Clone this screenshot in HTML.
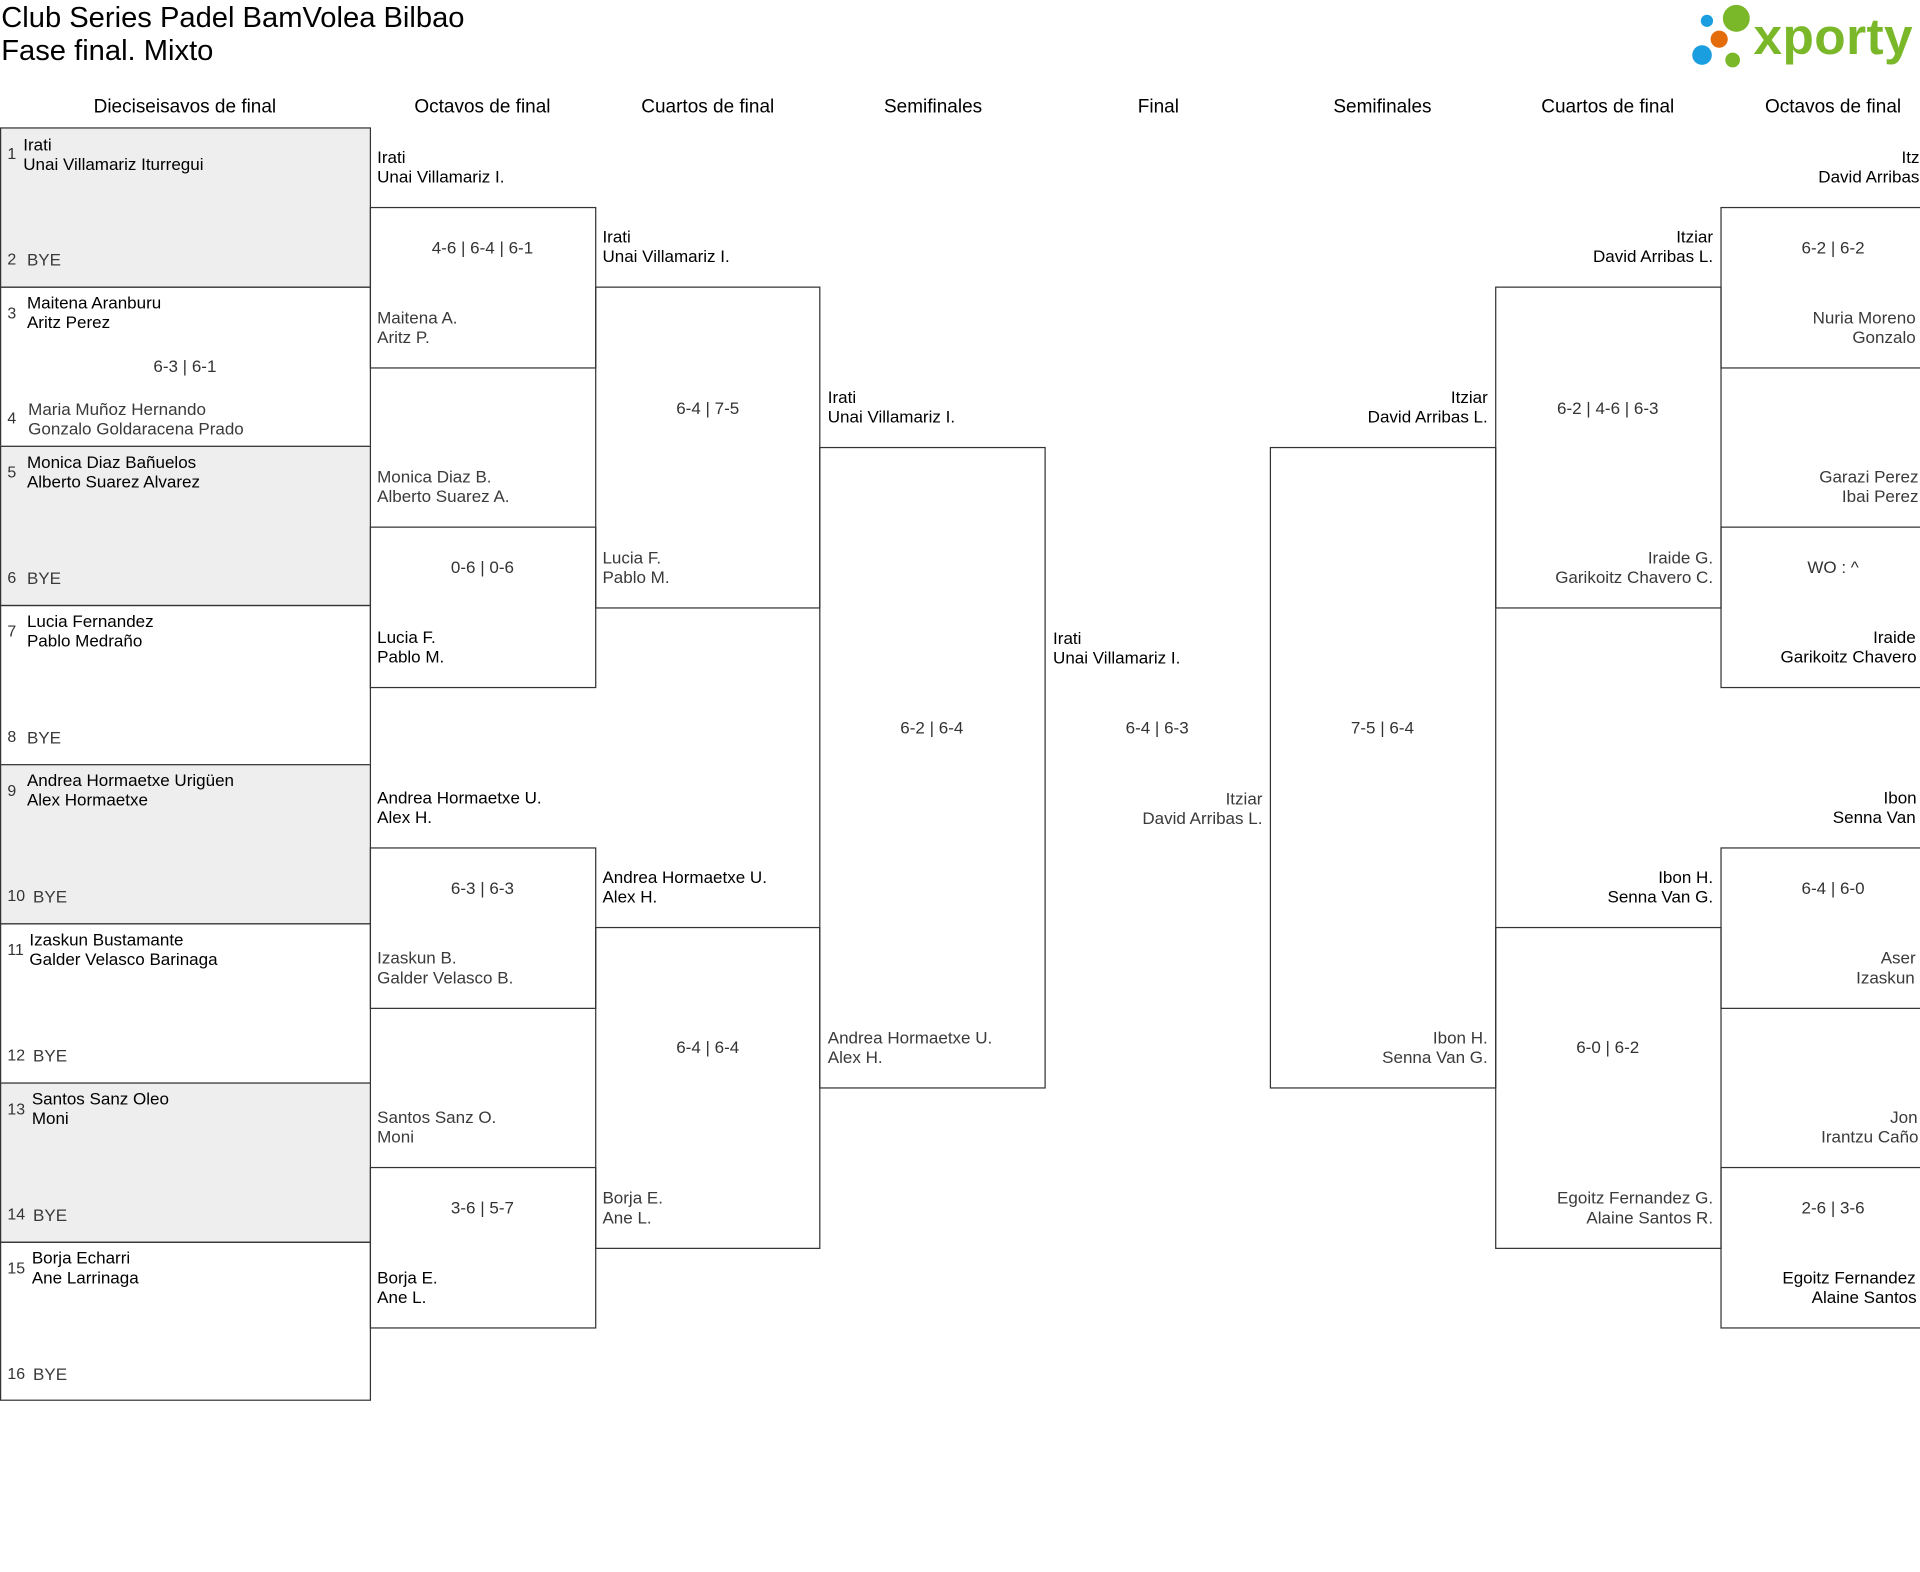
<!DOCTYPE html>
<html><head><meta charset="utf-8">
<style>
html,body{margin:0;padding:0;background:#fff;width:1920px;height:1572px;overflow:hidden}
.w{position:absolute;left:0;top:0;width:1568px;height:1284px;transform:scale(1.22449);transform-origin:0 0;overflow:hidden;font-family:"Liberation Sans",sans-serif;color:#000}
.a{position:absolute}
.b{position:absolute;box-sizing:border-box;border:1px solid #333}
.g{background:#eee}
.t{position:absolute;font-size:13.9px;line-height:16px;white-space:nowrap}
.l{color:#3a3a3a}
.s{position:absolute;font-size:13.9px;line-height:16px;white-space:nowrap;color:#333;text-align:center}
.h{position:absolute;top:79px;font-size:15.5px;line-height:18px;text-align:center;width:184px;white-space:nowrap}
.r{text-align:right}
.n{position:absolute;left:6px;font-size:13px;line-height:16px;color:#333}
</style></head><body><div class="w">
<div class="a" style="left:1px;top:1px;font-size:23.8px;line-height:27px;white-space:nowrap">Club Series Padel BamVolea Bilbao<br>Fase final. Mixto</div>
<svg class="a" style="left:1378px;top:2px" width="190" height="54">
<circle cx="16" cy="15" r="5" fill="#1a9ee0"/><circle cx="40" cy="13" r="11" fill="#7ab82a"/>
<circle cx="26" cy="30" r="7" fill="#e46c0a"/><circle cx="12" cy="43" r="8" fill="#1a9ee0"/><circle cx="37" cy="47" r="6" fill="#7ab82a"/>
<text x="54" y="42" font-family="Liberation Sans,sans-serif" font-weight="bold" font-size="42" fill="#7ab82a" textLength="130">xporty</text>
</svg>
<div class="h" style="left:59px">Dieciseisavos de final</div>
<div class="h" style="left:302px">Octavos de final</div>
<div class="h" style="left:486px">Cuartos de final</div>
<div class="h" style="left:670px">Semifinales</div>
<div class="h" style="left:854px">Final</div>
<div class="h" style="left:1037px">Semifinales</div>
<div class="h" style="left:1221px">Cuartos de final</div>
<div class="h" style="left:1405px">Octavos de final</div>

<div class="b g" style="left:0;top:104px;width:303px;height:131px"></div>
<div class="b" style="left:0;top:234px;width:303px;height:131px"></div>
<div class="b g" style="left:0;top:364px;width:303px;height:131px"></div>
<div class="b" style="left:0;top:494px;width:303px;height:131px"></div>
<div class="b g" style="left:0;top:624px;width:303px;height:131px"></div>
<div class="b" style="left:0;top:754px;width:303px;height:131px"></div>
<div class="b g" style="left:0;top:884px;width:303px;height:131px"></div>
<div class="b" style="left:0;top:1014px;width:303px;height:130px"></div>

<div class="n" style="top:118px">1</div><div class="t" style="left:19px;top:110px">Irati<br>Unai Villamariz Iturregui</div>
<div class="n" style="top:204px">2</div><div class="t l" style="left:22px;top:204px">BYE</div>
<div class="n" style="top:248px">3</div><div class="t" style="left:22px;top:239px">Maitena Aranburu<br>Aritz Perez</div>
<div class="s" style="left:0;width:302px;top:291px">6-3 | 6-1</div>
<div class="n" style="top:334px">4</div><div class="t l" style="left:23px;top:326px">Maria Muñoz Hernando<br>Gonzalo Goldaracena Prado</div>
<div class="n" style="top:378px">5</div><div class="t" style="left:22px;top:369px">Monica Diaz Bañuelos<br>Alberto Suarez Alvarez</div>
<div class="n" style="top:464px">6</div><div class="t l" style="left:22px;top:464px">BYE</div>
<div class="n" style="top:508px">7</div><div class="t" style="left:22px;top:499px">Lucia Fernandez<br>Pablo Medraño</div>
<div class="n" style="top:594px">8</div><div class="t l" style="left:22px;top:594px">BYE</div>
<div class="n" style="top:638px">9</div><div class="t" style="left:22px;top:629px">Andrea Hormaetxe Urigüen<br>Alex Hormaetxe</div>
<div class="n" style="top:724px">10</div><div class="t l" style="left:27px;top:724px">BYE</div>
<div class="n" style="top:768px">11</div><div class="t" style="left:24px;top:759px">Izaskun Bustamante<br>Galder Velasco Barinaga</div>
<div class="n" style="top:854px">12</div><div class="t l" style="left:27px;top:854px">BYE</div>
<div class="n" style="top:898px">13</div><div class="t" style="left:26px;top:889px">Santos Sanz Oleo<br>Moni</div>
<div class="n" style="top:984px">14</div><div class="t l" style="left:27px;top:984px">BYE</div>
<div class="n" style="top:1028px">15</div><div class="t" style="left:26px;top:1019px">Borja Echarri<br>Ane Larrinaga</div>
<div class="n" style="top:1114px">16</div><div class="t l" style="left:27px;top:1114px">BYE</div>

<div class="b" style="left:302px;top:169px;width:185px;height:132px"></div>
<div class="b" style="left:302px;top:430px;width:185px;height:132px"></div>
<div class="b" style="left:302px;top:692px;width:185px;height:132px"></div>
<div class="b" style="left:302px;top:953px;width:185px;height:132px"></div>
<div class="t" style="left:308px;top:120px">Irati<br>Unai Villamariz I.</div>
<div class="s" style="left:302px;width:184px;top:194px">4-6 | 6-4 | 6-1</div>
<div class="t l" style="left:308px;top:251px">Maitena A.<br>Aritz P.</div>
<div class="t l" style="left:308px;top:381px">Monica Diaz B.<br>Alberto Suarez A.</div>
<div class="s" style="left:302px;width:184px;top:455px">0-6 | 0-6</div>
<div class="t" style="left:308px;top:512px">Lucia F.<br>Pablo M.</div>
<div class="t" style="left:308px;top:643px">Andrea Hormaetxe U.<br>Alex H.</div>
<div class="s" style="left:302px;width:184px;top:717px">6-3 | 6-3</div>
<div class="t l" style="left:308px;top:774px">Izaskun B.<br>Galder Velasco B.</div>
<div class="t l" style="left:308px;top:904px">Santos Sanz O.<br>Moni</div>
<div class="s" style="left:302px;width:184px;top:978px">3-6 | 5-7</div>
<div class="t" style="left:308px;top:1035px">Borja E.<br>Ane L.</div>

<div class="b" style="left:486px;top:234px;width:184px;height:263px"></div>
<div class="b" style="left:486px;top:757px;width:184px;height:263px"></div>
<div class="t" style="left:492px;top:185px">Irati<br>Unai Villamariz I.</div>
<div class="s" style="left:486px;width:184px;top:325px">6-4 | 7-5</div>
<div class="t l" style="left:492px;top:447px">Lucia F.<br>Pablo M.</div>
<div class="t" style="left:492px;top:708px">Andrea Hormaetxe U.<br>Alex H.</div>
<div class="s" style="left:486px;width:184px;top:847px">6-4 | 6-4</div>
<div class="t l" style="left:492px;top:970px">Borja E.<br>Ane L.</div>

<div class="b" style="left:669px;top:365px;width:185px;height:524px"></div>
<div class="t" style="left:676px;top:316px">Irati<br>Unai Villamariz I.</div>
<div class="s" style="left:669px;width:184px;top:586px">6-2 | 6-4</div>
<div class="t l" style="left:676px;top:839px">Andrea Hormaetxe U.<br>Alex H.</div>

<div class="t" style="left:860px;top:513px">Irati<br>Unai Villamariz I.</div>
<div class="s" style="left:853px;width:184px;top:586px">6-4 | 6-3</div>
<div class="t l r" style="left:853px;width:178px;top:644px">Itziar<br>David Arribas L.</div>

<div class="b" style="left:1037px;top:365px;width:185px;height:524px"></div>
<div class="t r" style="left:1037px;width:178px;top:316px">Itziar<br>David Arribas L.</div>
<div class="s" style="left:1037px;width:184px;top:586px">7-5 | 6-4</div>
<div class="t l r" style="left:1037px;width:178px;top:839px">Ibon H.<br>Senna Van G.</div>

<div class="b" style="left:1221px;top:234px;width:185px;height:263px"></div>
<div class="b" style="left:1221px;top:757px;width:185px;height:263px"></div>
<div class="t r" style="left:1221px;width:178px;top:185px">Itziar<br>David Arribas L.</div>
<div class="s" style="left:1221px;width:184px;top:325px">6-2 | 4-6 | 6-3</div>
<div class="t l r" style="left:1221px;width:178px;top:447px">Iraide G.<br>Garikoitz Chavero C.</div>
<div class="t r" style="left:1221px;width:178px;top:708px">Ibon H.<br>Senna Van G.</div>
<div class="s" style="left:1221px;width:184px;top:847px">6-0 | 6-2</div>
<div class="t l r" style="left:1221px;width:178px;top:970px">Egoitz Fernandez G.<br>Alaine Santos R.</div>

<div class="b" style="left:1405px;top:169px;width:185px;height:132px"></div>
<div class="b" style="left:1405px;top:430px;width:185px;height:132px"></div>
<div class="b" style="left:1405px;top:692px;width:185px;height:132px"></div>
<div class="b" style="left:1405px;top:953px;width:185px;height:132px"></div>
<div class="t r" style="left:1405px;width:178px;top:120px">Itziar<br>David Arribas L.</div>
<div class="s" style="left:1405px;width:184px;top:194px">6-2 | 6-2</div>
<div class="t l r" style="left:1405px;width:178px;top:251px">Nuria Moreno O.<br>Gonzalo G.</div>
<div class="t l r" style="left:1405px;width:178px;top:381px">Garazi Perez A.<br>Ibai Perez A.</div>
<div class="s" style="left:1405px;width:184px;top:455px">WO : ^</div>
<div class="t r" style="left:1405px;width:178px;top:512px">Iraide G.<br>Garikoitz Chavero C.</div>
<div class="t r" style="left:1405px;width:178px;top:643px">Ibon H.<br>Senna Van G.</div>
<div class="s" style="left:1405px;width:184px;top:717px">6-4 | 6-0</div>
<div class="t l r" style="left:1405px;width:178px;top:774px">Aser G.<br>Izaskun M.</div>
<div class="t l r" style="left:1405px;width:178px;top:904px">Jon E.<br>Irantzu Caño A.</div>
<div class="s" style="left:1405px;width:184px;top:978px">2-6 | 3-6</div>
<div class="t r" style="left:1405px;width:178px;top:1035px">Egoitz Fernandez G.<br>Alaine Santos R.</div>
</div></body></html>
